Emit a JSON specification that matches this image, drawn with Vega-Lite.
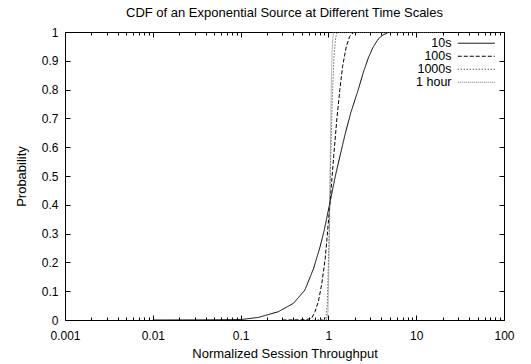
{
  "$schema": "https://vega.github.io/schema/vega-lite/v6.json",
  "width": 439,
  "height": 288,
  "autosize": {"type": "none"},
  "padding": {"left": 65, "top": 32, "right": 27, "bottom": 44},
  "background": "white",
  "title": {"text": "CDF of an Exponential Source at Different Time Scales", "font": "Liberation Sans", "fontSize": 13, "fontWeight": "normal", "color": "#000", "offset": 6},
  "config": {
    "view": {"stroke": "#000", "strokeWidth": 1},
    "axis": {"domain": false, "grid": false, "tickColor": "#000", "tickWidth": 1, "labelColor": "#000", "labelFont": "Liberation Sans", "labelFontSize": 12, "titleFont": "Liberation Sans", "titleFontSize": 13, "titleFontWeight": "normal", "titleColor": "#000"},
    "legend": {"orient": "none", "legendX": 405, "legendY": 5, "padding": 0, "symbolType": "M-5.2857,0H5.2857", "symbolSize": 49, "symbolStrokeWidth": 1, "symbolFillColor": "transparent", "labelAlign": "right", "labelOffset": -31, "labelFont": "Liberation Sans", "labelFontSize": 12.5, "labelColor": "#000", "rowPadding": 0}
  },
  "data": {"values": [
    {"x": 0.01, "p": 0, "s": "10s"},
    {"x": 0.03, "p": 0.0003, "s": "10s"},
    {"x": 0.06, "p": 0.0008, "s": "10s"},
    {"x": 0.104, "p": 0.002, "s": "10s"},
    {"x": 0.16, "p": 0.009, "s": "10s"},
    {"x": 0.27, "p": 0.029, "s": "10s"},
    {"x": 0.4, "p": 0.058, "s": "10s"},
    {"x": 0.54, "p": 0.104, "s": "10s"},
    {"x": 0.68, "p": 0.18, "s": "10s"},
    {"x": 0.805, "p": 0.255, "s": "10s"},
    {"x": 0.894, "p": 0.31, "s": "10s"},
    {"x": 1.045, "p": 0.41, "s": "10s"},
    {"x": 1.2, "p": 0.5, "s": "10s"},
    {"x": 1.38, "p": 0.58, "s": "10s"},
    {"x": 1.55, "p": 0.645, "s": "10s"},
    {"x": 1.8, "p": 0.72, "s": "10s"},
    {"x": 2.19, "p": 0.8, "s": "10s"},
    {"x": 2.5, "p": 0.86, "s": "10s"},
    {"x": 2.85, "p": 0.91, "s": "10s"},
    {"x": 3.2, "p": 0.945, "s": "10s"},
    {"x": 3.7, "p": 0.976, "s": "10s"},
    {"x": 4.2, "p": 0.99, "s": "10s"},
    {"x": 4.8, "p": 0.998, "s": "10s"},
    {"x": 5.5, "p": 1, "s": "10s"},
    {"x": 20, "p": 1, "s": "10s"},
    {"x": 0.3, "p": 0, "s": "100s"},
    {"x": 0.55, "p": 0.001, "s": "100s"},
    {"x": 0.645, "p": 0.006, "s": "100s"},
    {"x": 0.706, "p": 0.03, "s": "100s"},
    {"x": 0.77, "p": 0.065, "s": "100s"},
    {"x": 0.84, "p": 0.125, "s": "100s"},
    {"x": 0.917, "p": 0.21, "s": "100s"},
    {"x": 0.96, "p": 0.278, "s": "100s"},
    {"x": 1.045, "p": 0.41, "s": "100s"},
    {"x": 1.15, "p": 0.57, "s": "100s"},
    {"x": 1.25, "p": 0.7, "s": "100s"},
    {"x": 1.35, "p": 0.8, "s": "100s"},
    {"x": 1.45, "p": 0.88, "s": "100s"},
    {"x": 1.6, "p": 0.95, "s": "100s"},
    {"x": 1.75, "p": 0.985, "s": "100s"},
    {"x": 1.9, "p": 0.997, "s": "100s"},
    {"x": 2.1, "p": 1, "s": "100s"},
    {"x": 20, "p": 1, "s": "100s"},
    {"x": 0.7, "p": 0, "s": "1000s"},
    {"x": 0.93, "p": 0.002, "s": "1000s"},
    {"x": 0.97, "p": 0.05, "s": "1000s"},
    {"x": 1.02, "p": 0.3, "s": "1000s"},
    {"x": 1.06, "p": 0.55, "s": "1000s"},
    {"x": 1.11, "p": 0.78, "s": "1000s"},
    {"x": 1.16, "p": 0.92, "s": "1000s"},
    {"x": 1.21, "p": 0.98, "s": "1000s"},
    {"x": 1.26, "p": 1, "s": "1000s"},
    {"x": 20, "p": 1, "s": "1000s"},
    {"x": 0.8, "p": 0, "s": "1 hour"},
    {"x": 0.96, "p": 0.002, "s": "1 hour"},
    {"x": 0.99, "p": 0.03, "s": "1 hour"},
    {"x": 1.02, "p": 0.25, "s": "1 hour"},
    {"x": 1.04, "p": 0.45, "s": "1 hour"},
    {"x": 1.06, "p": 0.65, "s": "1 hour"},
    {"x": 1.08, "p": 0.82, "s": "1 hour"},
    {"x": 1.1, "p": 0.93, "s": "1 hour"},
    {"x": 1.12, "p": 0.98, "s": "1 hour"},
    {"x": 1.15, "p": 1, "s": "1 hour"},
    {"x": 20, "p": 1, "s": "1 hour"}
  ]},
  "layer": [
    {
      "mark": {"type": "line", "strokeWidth": 1, "clip": true},
      "encoding": {
        "x": {"field": "x", "type": "quantitative", "scale": {"type": "log", "domain": [0.001, 100]},
          "axis": {"orient": "bottom", "title": "Normalized Session Throughput", "titlePadding": 4,
            "values": [0.001,0.002,0.003,0.004,0.005,0.006,0.007,0.008,0.009,0.01,0.02,0.03,0.04,0.05,0.06,0.07,0.08,0.09,0.1,0.2,0.3,0.4,0.5,0.6,0.7,0.8,0.9,1,2,3,4,5,6,7,8,9,10,20,30,40,50,60,70,80,90,100],
            "labelExpr": "indexof([0.001,0.01,0.1,1,10,100], datum.value) >= 0 ? datum.value + '' : ''",
            "tickSize": {"condition": {"test": "indexof([0.001,0.01,0.1,1,10,100], datum.value) >= 0", "value": -5}, "value": -3},
            "labelPadding": 15, "labelFlush": false, "labelOverlap": false}},
        "y": {"field": "p", "type": "quantitative", "scale": {"domain": [0, 1]},
          "axis": {"orient": "left", "title": "Probability", "titlePadding": 13,
            "values": [0,0.1,0.2,0.3,0.4,0.5,0.6,0.7,0.8,0.9,1],
            "labelExpr": "datum.value + ''", "tickSize": -5, "labelPadding": 12}},
        "color": {"field": "s", "type": "nominal", "title": null,
          "scale": {"domain": ["10s", "100s", "1000s", "1 hour"], "range": ["#000000", "#000000", "#222222", "#777777"]}},
        "strokeDash": {"field": "s", "type": "nominal", "title": null,
          "scale": {"domain": ["10s", "100s", "1000s", "1 hour"], "range": [[1, 0], [4, 2], [1, 2], [1, 1]]}}
      }
    },
    {
      "mark": {"type": "line", "opacity": 0},
      "encoding": {
        "x": {"field": "x", "type": "quantitative",
          "axis": {"orient": "top", "title": null, "labels": false,
            "values": [0.001,0.002,0.003,0.004,0.005,0.006,0.007,0.008,0.009,0.01,0.02,0.03,0.04,0.05,0.06,0.07,0.08,0.09,0.1,0.2,0.3,0.4,0.5,0.6,0.7,0.8,0.9,1,2,3,4,5,6,7,8,9,10,20,30,40,50,60,70,80,90,100],
            "tickSize": {"condition": {"test": "indexof([0.001,0.01,0.1,1,10,100], datum.value) >= 0", "value": -5}, "value": -3}}},
        "y": {"field": "p", "type": "quantitative",
          "axis": {"orient": "right", "title": null, "labels": false,
            "values": [0,0.1,0.2,0.3,0.4,0.5,0.6,0.7,0.8,0.9,1], "tickSize": -5}},
        "detail": {"field": "s"}
      }
    }
  ],
  "resolve": {"axis": {"x": "independent", "y": "independent"}}
}
